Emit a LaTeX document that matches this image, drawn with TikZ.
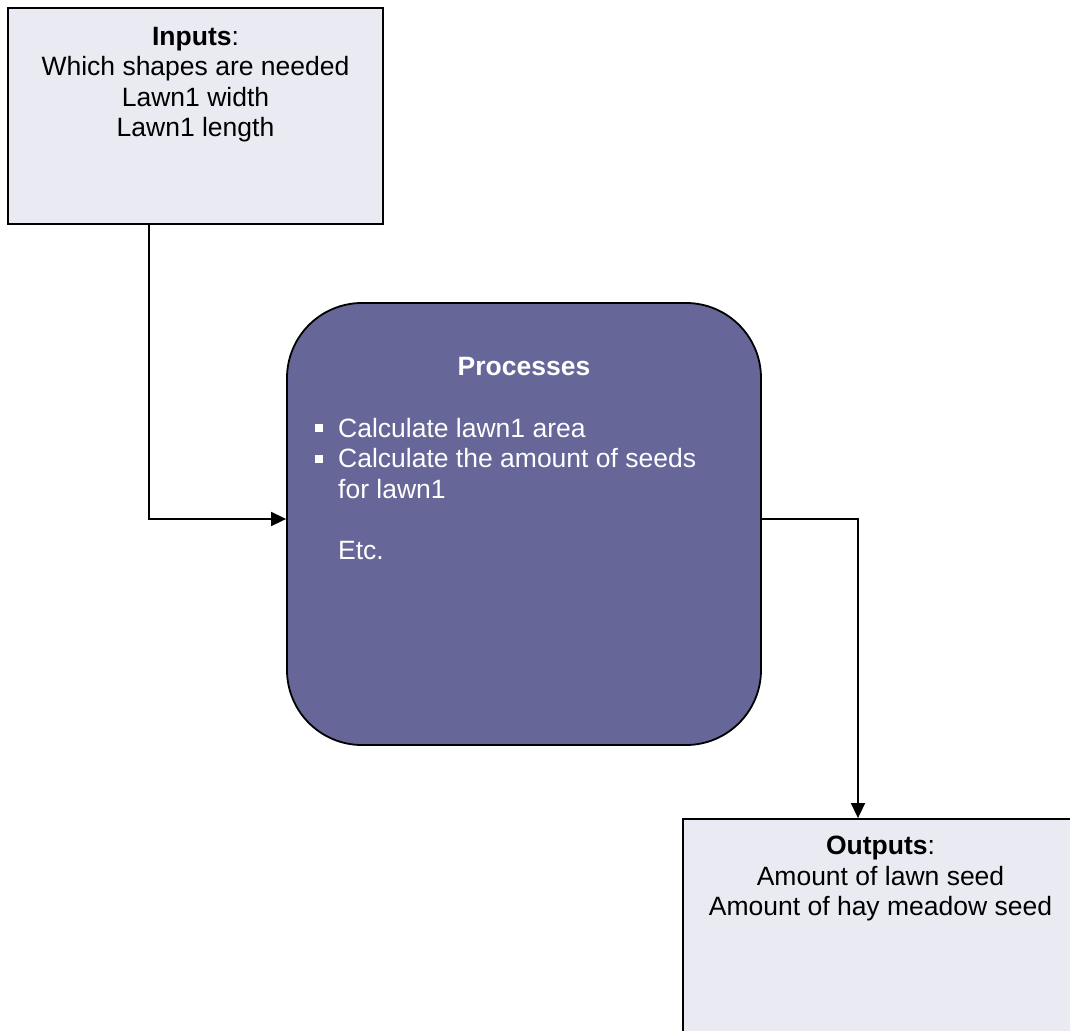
\documentclass[tikz,border=0pt]{standalone}
\usepackage{fontspec}
\setmainfont{Liberation Sans}
\usetikzlibrary{arrows.meta}

\definecolor{boxfill}{RGB}{234,234,243}
\definecolor{procfill}{RGB}{102,102,153}
\newcommand{\sqbullet}{\leavevmode\llap{\rule[5pt]{8pt}{8pt}\hspace{15pt}}}

\tikzset{
    iobox/.style={draw=black, line width=1.8pt, fill=boxfill, inner sep=0pt},
    procbox/.style={draw=black, line width=1.8pt, fill=procfill, rounded corners=75pt, inner sep=0pt},
    boxtext/.style={inner sep=0pt, align=center, font=\fontsize{26.5}{30.5}\selectfont},
    link/.style={line width=1.6pt, -{Triangle[length=15pt,width=14pt]}}
}

\begin{document}
\begin{tikzpicture}[x=1pt, y=-1pt]
    % page frame (the output box runs off it)
    \clip (0,0) rectangle (1070,1030);
    \fill[white] (0,0) rectangle (1070,1030);

    % Inputs (base = last line)
    \node[iobox, minimum width=375pt, minimum height=216pt] (inputs) at (195.5,116) {};
    \node[boxtext, anchor=base] (inputstext) at (195.5,136.5)
        {\textbf{Inputs}:\\Which shapes are needed\\Lawn1 width\\Lawn1 length};

    % Processes
    \node[procbox, minimum width=474pt, minimum height=442pt] (processes) at (524,524) {};
    \node[boxtext, text=white, anchor=base] (proctitle) at (524,375) {\textbf{Processes}};
    \node[boxtext, text=white, align=left, anchor=base west] (proclist) at (338,559)
        {\sqbullet Calculate lawn1 area\\\sqbullet Calculate the amount of seeds\\for lawn1\\[30.5pt]Etc.};

    % Outputs
    \node[iobox, minimum width=395pt, minimum height=250pt] (outputs) at (880.5,944) {};
    \node[boxtext, anchor=base] (outputstext) at (880.5,915.5)
        {\textbf{Outputs}:\\Amount of lawn seed\\Amount of hay meadow seed};

    % connectors
    \coordinate (inbend) at (149,519);
    \coordinate (outbend) at (858,519);
    \draw[link] (inputs.south -| inbend) -- (inbend) -- (processes.west |- inbend);
    \draw[link] (processes.east |- outbend) -- (outbend) -- (outputs.north -| outbend);
\end{tikzpicture}
\end{document}
